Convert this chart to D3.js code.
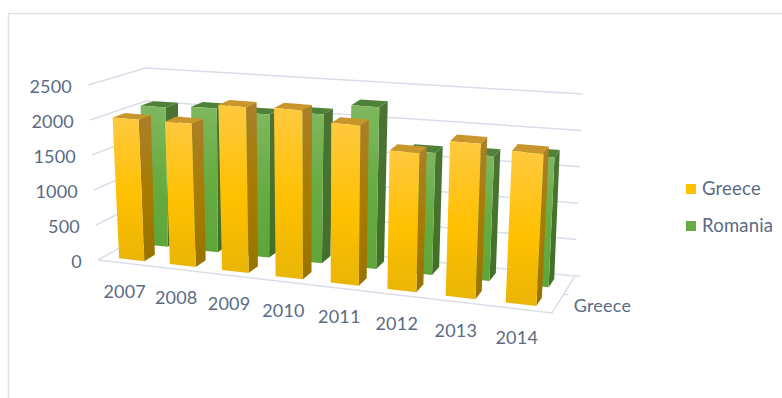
<!DOCTYPE html>
<html>
<head>
<meta charset="utf-8">
<script src="https://cdn.jsdelivr.net/npm/d3@7/dist/d3.min.js"></script>
<style>
html,body{margin:0;padding:0;background:#fff}
svg{display:block}
text{font-family:Lato,"Open Sans",sans-serif;fill:#5a6b84;letter-spacing:0.2px}
</style>
</head>
<body>
<svg id="chart" width="782" height="398"></svg>
<script>
const categories = ["2007","2008","2009","2010","2011","2012","2013","2014"];
const seriesNames = ["Greece","Romania"];
const greeceValues = [2020,2030,2330,2350,2210,1900,2100,2040];
const romaniaValues = [2050,2090,2060,2120,2280,1700,1720,1770];
const valueTicks = [0,500,1000,1500,2000,2500];
const depthLabels = ["Greece"];

const width = 782, height = 398;
const svg = d3.select("#chart");

// Corners of the 3D plot box on screen: floor and ceiling, front and back.
const box = {
  floor: {fl:[98,260], fr:[552,313], bl:[146,233], br:[575,276]},
  top:   {fl:[88,85],  fr:[562,125], bl:[146,68],  br:[583,94]}
};
const perspective = 1.12;
const warp = u => u / (u + (1 - u) * perspective);

const xBand = d3.scaleBand().domain(categories).range([0,1]).paddingInner(0.5).paddingOuter(0.3);
const zBand = d3.scaleBand().domain(seriesNames).range([0,1]).paddingInner(0.55).paddingOuter(0.25);
const yScale = d3.scaleLinear().domain([0,2500]).range([0,1]);

const mix = d3.interpolateArray;
function project(u, v, h) {
  const t = warp(u);
  const plane = c => mix(mix(c.fl, c.fr)(t), mix(c.bl, c.br)(t))(v);
  return mix(plane(box.floor), plane(box.top))(h);
}
const poly = pts => "M" + pts.map(p => p.map(n => n.toFixed(2)).join(",")).join("L") + "Z";

// Gradients for the bar faces.
const defs = svg.append("defs");
function gradient(id, stops) {
  const g = defs.append("linearGradient").attr("id", id).attr("x1",0).attr("y1",0).attr("x2",0).attr("y2",1);
  stops.forEach(([o,c]) => g.append("stop").attr("offset",o).attr("stop-color",c));
}
gradient("gFront", [[0,"#ffc93f"],[0.55,"#ffc000"],[1,"#e9b506"]]);
gradient("gSide",  [[0,"#ab7f28"],[0.55,"#a67c00"],[1,"#987300"]]);
gradient("rFront", [[0,"#7fb85f"],[0.5,"#68ac42"],[1,"#5ea63a"]]);
gradient("rSide",  [[0,"#4b7434"],[1,"#437028"]]);

// Outer frame.
svg.append("path").attr("d","M8.5,398V13.5H782").attr("fill","none").attr("stroke","#dde2ea").attr("stroke-width",1.5);

const grid = svg.append("g").attr("fill","none").attr("stroke","#d9dfe9").attr("stroke-width",1.5);
valueTicks.forEach(t => {
  const h = yScale(t);
  grid.append("path").attr("d", d3.line()([project(0,0,h), project(0,1,h), project(1,1,h)]));
});
grid.append("path").attr("d", d3.line()([project(0,0,0), project(1,0,0), project(1,1,0)]));

// Depth axis ticks stick out past the right floor edge.
[0.5, 1].forEach(v => {
  const p = project(1,v,0);
  grid.append("path").attr("d", d3.line()([p, [p[0] + 5, p[1]]]));
});

// Value axis labels follow the front edge of the left wall.
svg.append("g").selectAll("text").data(valueTicks).join("text")
  .attr("text-anchor","end").attr("font-size",18)
  .attr("x", d => project(0,0,yScale(d))[0] - 16)
  .attr("y", d => project(0,0,yScale(d))[1] + 8)
  .text(d => d);

function drawBars(name, values, front, side, topColor) {
  const v0 = zBand(name), v1 = v0 + zBand.bandwidth();
  const g = svg.append("g");
  categories.forEach((c,i) => {
    const u0 = xBand(c), u1 = u0 + xBand.bandwidth(), h = yScale(values[i]);
    g.append("path").attr("d", poly([project(u1,v0,h),project(u1,v1,h),project(u1,v1,0),project(u1,v0,0)])).attr("fill",`url(#${side})`);
    g.append("path").attr("d", poly([project(u0,v0,h),project(u1,v0,h),project(u1,v1,h),project(u0,v1,h)])).attr("fill",topColor);
    g.append("path").attr("d", poly([project(u0,v0,h),project(u1,v0,h),project(u1,v0,0),project(u0,v0,0)])).attr("fill",`url(#${front})`);
  });
}
drawBars("Romania", romaniaValues, "rFront", "rSide", "#4f8238");
drawBars("Greece", greeceValues, "gFront", "gSide", "#c9962c");

// Category labels under the front floor edge.
svg.append("g").selectAll("text").data(categories).join("text")
  .attr("text-anchor","middle").attr("font-size",18)
  .attr("x", d => project(xBand(d)+xBand.bandwidth()/2,0,0)[0] - 1)
  .attr("y", d => project(xBand(d)+xBand.bandwidth()/2,0,0)[1] + 35)
  .text(d => d);

// Depth axis label.
svg.append("g").selectAll("text").data(depthLabels).join("text")
  .attr("font-size",18)
  .attr("x", () => project(1,0.25,0)[0] + 16)
  .attr("y", () => project(1,0.25,0)[1] + 8)
  .text(d => d);

// Legend.
const colors = {Greece:"#ffc000", Romania:"#68ac42"};
const legend = svg.append("g").selectAll("g").data(seriesNames).join("g")
  .attr("transform",(d,i) => `translate(686,${184 + i*37})`);
legend.append("rect").attr("width",10).attr("height",10).attr("fill",d => colors[d]);
legend.append("text").attr("x",16).attr("y",11).attr("font-size",18.5).text(d => d);
</script>
</body>
</html>
